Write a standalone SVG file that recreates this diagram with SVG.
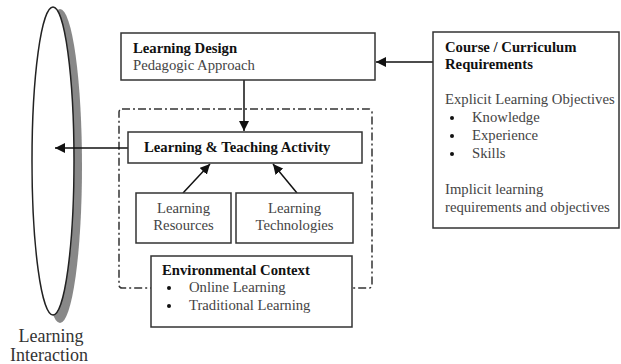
<svg xmlns="http://www.w3.org/2000/svg" width="621" height="364" viewBox="0 0 621 364">
<defs>
<marker id="ah" viewBox="0 0 10 10" refX="10" refY="5" markerWidth="10" markerHeight="10" markerUnits="userSpaceOnUse" orient="auto">
<path d="M0,0 L10,5 L0,10 Z" fill="#111"/>
</marker>
<style>
.box{fill:#fff;stroke:#333;stroke-width:1.5}
.t{font-family:"Liberation Serif","Times New Roman",serif;font-size:14.7px;fill:#444}
.b{font-family:"Liberation Serif","Times New Roman",serif;font-size:14.7px;font-weight:bold;fill:#111}
.c{stroke:#111;stroke-width:1.5;fill:none}
.dd{fill:none;stroke:#333;stroke-width:1.5;stroke-dasharray:8,3,2,3}
</style>
</defs>
<rect width="621" height="364" fill="#fff"/>
<g id="interaction">
<ellipse cx="60" cy="166" rx="22" ry="157" fill="#888"/>
<ellipse cx="53" cy="161" rx="21" ry="154" fill="#fff" stroke="#222" stroke-width="1.5"/>
<text x="51" y="342" text-anchor="middle" font-family="Liberation Serif, serif" font-size="18" fill="#333">Learning</text>
<text x="49" y="361" text-anchor="middle" font-family="Liberation Serif, serif" font-size="18" fill="#333">Interaction</text>
</g>
<g id="context-boundary">
<rect x="119" y="109" width="253" height="179" rx="3" class="dd"/>
</g>
<g id="connectors">
<line x1="433" y1="62" x2="376" y2="62" class="c" marker-end="url(#ah)"/>
<line x1="244" y1="80" x2="244" y2="131" class="c" marker-end="url(#ah)"/>
<line x1="128" y1="148" x2="55" y2="148" class="c" marker-end="url(#ah)"/>
<line x1="183" y1="193" x2="210" y2="164" class="c" marker-end="url(#ah)"/>
<line x1="297" y1="193" x2="273" y2="164" class="c" marker-end="url(#ah)"/>
</g>
<g id="learning-design">
<rect x="121" y="33" width="254" height="47" class="box"/>
<text x="133" y="53" class="b">Learning Design</text>
<text x="133" y="70" class="t">Pedagogic Approach</text>
</g>
<g id="activity">
<rect x="128" y="132" width="234" height="31" class="box"/>
<text x="144" y="152" class="b">Learning &amp; Teaching Activity</text>
</g>
<g id="resources">
<rect x="136" y="193" width="95" height="50" class="box"/>
<text x="183.5" y="213" class="t" text-anchor="middle">Learning</text>
<text x="183.5" y="230" class="t" text-anchor="middle">Resources</text>
</g>
<g id="technologies">
<rect x="236" y="193" width="117" height="50" class="box"/>
<text x="294.5" y="213" class="t" text-anchor="middle">Learning</text>
<text x="294.5" y="230" class="t" text-anchor="middle">Technologies</text>
</g>
<g id="environment">
<rect x="151" y="256" width="201" height="71" class="box"/>
<text x="162" y="275" class="b">Environmental Context</text>
<circle cx="169" cy="288" r="2" fill="#111"/>
<text x="189" y="292" class="t">Online Learning</text>
<circle cx="169" cy="306" r="2" fill="#111"/>
<text x="189" y="310" class="t">Traditional Learning</text>
</g>
<g id="requirements">
<rect x="433" y="32" width="186" height="196" class="box"/>
<text x="445" y="52" class="b">Course / Curriculum</text>
<text x="445" y="69" class="b">Requirements</text>
<text x="445" y="104" class="t">Explicit Learning Objectives</text>
<circle cx="452" cy="118" r="2" fill="#111"/>
<text x="472" y="122" class="t">Knowledge</text>
<circle cx="452" cy="136" r="2" fill="#111"/>
<text x="472" y="140" class="t">Experience</text>
<circle cx="452" cy="154" r="2" fill="#111"/>
<text x="472" y="158" class="t">Skills</text>
<text x="445" y="194" class="t">Implicit learning</text>
<text x="445" y="212" class="t">requirements and objectives</text>
</g>
</svg>
